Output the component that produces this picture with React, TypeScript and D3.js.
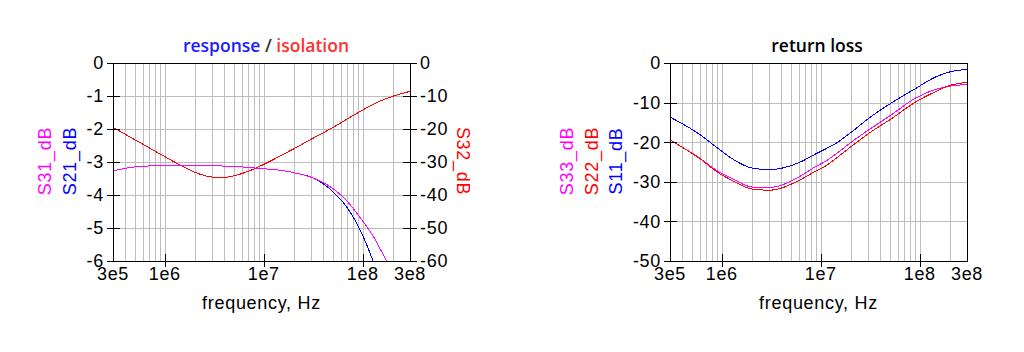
import React from "react";
import * as d3 from "d3";

// ---------- data ----------
const xTickLabels = ["3e5", "1e6", "1e7", "1e8", "3e8"];
const xTickValues = [3e5, 1e6, 1e7, 1e8, 3e8];

const respLeftTicks = [0, -1, -2, -3, -4, -5, -6];
const isoRightTicks = [0, -10, -20, -30, -40, -50, -60];
const rlTicks = [0, -10, -20, -30, -40, -50];

const freqS21 = [3e5, 5e5, 1e6, 1.5e6, 2e6, 3e6, 5e6, 7e6, 1e7, 1.5e7, 2e7, 3e7, 4e7, 5e7, 7e7, 1e8, 1.3e8];
const s21 = [-3.25, -3.13, -3.09, -3.08, -3.09, -3.1, -3.12, -3.15, -3.19, -3.24, -3.31, -3.45, -3.66, -3.9, -4.4, -5.25, -6.1];

const freqS31 = [3e5, 5e5, 1e6, 1.5e6, 2e6, 3e6, 5e6, 7e6, 1e7, 1.5e7, 2e7, 3e7, 4e7, 5e7, 7e7, 1e8, 1.3e8, 1.5e8, 1.73e8, 1.9e8];
const s31 = [-3.25, -3.13, -3.09, -3.08, -3.09, -3.1, -3.12, -3.15, -3.19, -3.24, -3.31, -3.45, -3.62, -3.8, -4.2, -4.8, -5.3, -5.65, -6.0, -6.3];

const freqS32 = [3e5, 5e5, 1e6, 1.5e6, 2e6, 3e6, 4e6, 5e6, 7e6, 1e7, 1.5e7, 2e7, 3e7, 5e7, 7e7, 1e8, 1.5e8, 2e8, 3e8];
const s32 = [-19.4, -23.2, -28.3, -31.2, -33.0, -34.4, -34.5, -34.0, -32.6, -30.5, -27.8, -25.8, -22.9, -19.3, -16.7, -14.0, -11.3, -9.9, -8.4];

const freqRL = [3e5, 6e5, 9e5, 1.25e6, 2e6, 3e6, 6e6, 8.7e6, 1.1e7, 1.4e7, 2e7, 3e7, 5e7, 9e7, 1.4e8, 2e8, 3e8];
const s11 = [-13.6, -18.0, -21.4, -24.0, -26.4, -26.8, -25.0, -22.9, -21.6, -20.2, -17.4, -13.9, -10.1, -6.3, -3.5, -2.1, -1.5];
const s22 = [-19.4, -24.1, -27.5, -29.5, -31.7, -32.0, -29.5, -27.2, -25.9, -24.0, -21.0, -17.7, -14.1, -9.7, -7.2, -5.5, -4.8];
const s33 = [-19.4, -24.0, -27.2, -29.0, -31.2, -31.3, -28.6, -26.1, -24.7, -22.9, -19.9, -16.8, -13.1, -8.7, -6.6, -5.7, -5.3];

// ---------- style ----------
const FONT = "'Liberation Sans', Arial, sans-serif";
const TITLE_FONT = "'Open Sans', sans-serif";
const GRID = "#bdbdbd";
const BLUE = "#0000ff";
const RED = "#ff0000";
const MAGENTA = "#ff00ff";

const minorFreqs: number[] = [];
for (let dec = 1e5; dec <= 1e8; dec *= 10) {
  for (let m = 1; m <= 9; m++) {
    const f = dec * m;
    if (f > 3e5 * 1.001 && f < 3e8 * 0.999) minorFreqs.push(f);
  }
}

const TOP = 63;
const BOTTOM = 261;

type Series = { freq: number[]; vals: number[]; color: string; axis?: "right" };

function Panel(props: {
  id: string;
  x0: number;
  x1: number;
  yDomain: [number, number];
  yTicks: number[];
  y2Domain?: [number, number];
  y2Ticks?: number[];
  series: Series[];
}) {
  const { id, x0, x1, yDomain, yTicks, y2Domain, y2Ticks, series } = props;
  const x = d3.scaleLog().domain([3e5, 3e8]).range([x0, x1]);
  const y = d3.scaleLinear().domain(yDomain).range([BOTTOM, TOP]);
  const y2 = y2Domain ? d3.scaleLinear().domain(y2Domain).range([BOTTOM, TOP]) : null;
  const px = (v: number) => Math.round(v) + 0.5;

  return (
    <g>
      <defs>
        <clipPath id={id}>
          <rect x={x0} y={TOP} width={x1 - x0 + 1} height={BOTTOM - TOP + 1} />
        </clipPath>
      </defs>
      {/* grid */}
      {minorFreqs.map((f) => (
        <line key={"gv" + f} x1={px(x(f))} x2={px(x(f))} y1={TOP} y2={BOTTOM} stroke={GRID} strokeWidth={1} shapeRendering="crispEdges" />
      ))}
      {yTicks.map((t) => (
        <line key={"gh" + t} x1={x0} x2={x1} y1={px(y(t))} y2={px(y(t))} stroke={GRID} strokeWidth={1} shapeRendering="crispEdges" />
      ))}
      {/* series */}
      <g clipPath={`url(#${id})`}>
        {series.map((s, i) => {
          const yy = s.axis === "right" && y2 ? y2 : y;
          const pts = s.freq.map((f, k) => [x(f) + 0.5, yy(s.vals[k]) + 0.5] as [number, number]);
          const d = d3.line().curve(d3.curveMonotoneX)(pts) || "";
          return <path key={i} d={d} fill="none" stroke={s.color} strokeWidth={1} shapeRendering="crispEdges" />;
        })}
      </g>
      {/* frame */}
      <rect x={x0 + 0.5} y={TOP + 0.5} width={x1 - x0} height={BOTTOM - TOP} fill="none" stroke="#000" strokeWidth={1} shapeRendering="crispEdges" />
      {/* x ticks */}
      {xTickValues.slice(1, 4).map((f) => (
        <line key={"xt" + f} x1={px(x(f))} x2={px(x(f))} y1={BOTTOM - 7} y2={BOTTOM + 6} stroke="#000" shapeRendering="crispEdges" />
      ))}
      {xTickValues.map((f, i) => (
        <text key={"xl" + f} x={x(f)} y={280} textAnchor="middle" fontFamily={FONT} fontSize={18} letterSpacing={0.7} fill="#000">
          {xTickLabels[i]}
        </text>
      ))}
      {/* left y ticks */}
      {yTicks.map((t) => (
        <g key={"yt" + t}>
          <line x1={x0 - 6} x2={x0 + 7} y1={px(y(t))} y2={px(y(t))} stroke="#000" shapeRendering="crispEdges" />
          <text x={x0 - 9} y={y(t)} dy="0.36em" textAnchor="end" fontFamily={FONT} fontSize={18} letterSpacing={0.7} fill="#000">
            {t}
          </text>
        </g>
      ))}
      {y2 && y2Ticks
        ? y2Ticks.map((t) => (
            <g key={"y2t" + t}>
              <line x1={x1 - 7} x2={x1 + 7} y1={px(y2(t))} y2={px(y2(t))} stroke="#000" shapeRendering="crispEdges" />
              <text x={x1 + 10} y={y2(t)} dy="0.36em" textAnchor="start" fontFamily={FONT} fontSize={18} letterSpacing={0.7} fill="#000">
                {t}
              </text>
            </g>
          ))
        : null}
      <text x={(x0 + x1) / 2} y={309} textAnchor="middle" fontFamily={FONT} fontSize={18} letterSpacing={0.7} fill="#000">
        frequency, Hz
      </text>
    </g>
  );
}

function VLabel(props: { x: number; text: string; color: string; dir?: number }) {
  const dir = props.dir || -90;
  return (
    <text
      transform={`translate(${props.x},161) rotate(${dir})`}
      textAnchor="middle"
      fontFamily={FONT}
      fontSize={18}
      letterSpacing={0.7}
      fill={props.color}
    >
      {props.text}
    </text>
  );
}

export default function App() {
  return (
    <svg width={1024} height={352} style={{ position: "absolute", left: 0, top: 0, background: "#fff" }}>
      <rect x={0} y={0} width={1024} height={352} fill="#fff" />
      <text x={266} y={52} textAnchor="middle" fontFamily={TITLE_FONT} fontWeight={600} fontSize={17.5}>
        <tspan fill="#2020ff">response</tspan>
        <tspan fill="#333"> / </tspan>
        <tspan fill="#ff3030">isolation</tspan>
      </text>
      <Panel
        id="clipL"
        x0={113}
        x1={410}
        yDomain={[-6, 0]}
        yTicks={respLeftTicks}
        y2Domain={[-60, 0]}
        y2Ticks={isoRightTicks}
        series={[
          { freq: freqS32, vals: s32, color: RED, axis: "right" },
          { freq: freqS21, vals: s21, color: BLUE },
          { freq: freqS31, vals: s31, color: MAGENTA },
        ]}
      />
      <VLabel x={51} text="S31_dB" color={MAGENTA} />
      <VLabel x={76} text="S21_dB" color={BLUE} />
      <VLabel x={457} text="S32_dB" color={RED} dir={90} />

      <text x={817} y={52} textAnchor="middle" fontFamily={TITLE_FONT} fontWeight={600} fontSize={17.5} fill="#000">
        return loss
      </text>
      <Panel
        id="clipR"
        x0={670}
        x1={967}
        yDomain={[-50, 0]}
        yTicks={rlTicks}
        series={[
          { freq: freqRL, vals: s11, color: BLUE },
          { freq: freqRL, vals: s33, color: MAGENTA },
          { freq: freqRL, vals: s22, color: RED },
        ]}
      />
      <VLabel x={573} text="S33_dB" color={MAGENTA} />
      <VLabel x={598} text="S22_dB" color={RED} />
      <VLabel x={622} text="S11_dB" color={BLUE} />
    </svg>
  );
}
